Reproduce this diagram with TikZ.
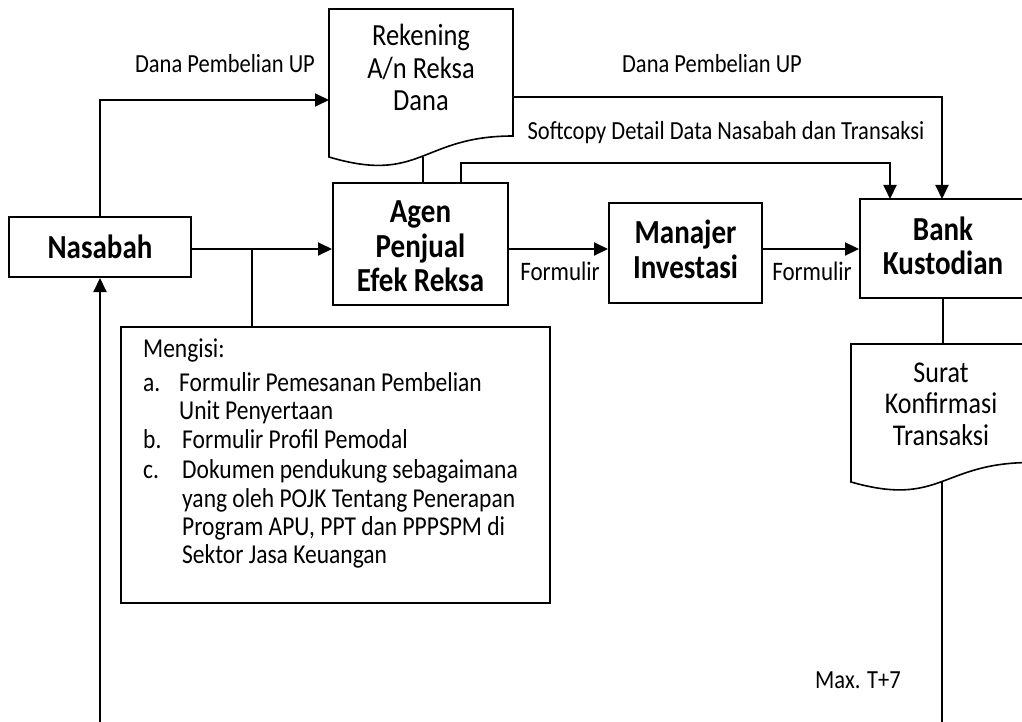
\documentclass[tikz,border=0pt]{standalone}
\usepackage{graphicx}
\usepackage{fontspec}
\setmainfont{Carlito}
\usetikzlibrary{arrows.meta}
\newcommand{\vs}[1]{\scalebox{1}[1.16]{#1}}
\begin{document}
\begin{tikzpicture}[x=1pt,y=-1pt,
  box/.style={draw, line width=2pt, rectangle, inner sep=0pt},
  btext/.style={inner sep=0pt, align=center, font=\bfseries\fontsize{29}{34.5}\selectfont},
  doctext/.style={inner sep=0pt, align=center, font=\fontsize{26.5}{32.5}\selectfont},
  lbl/.style={inner sep=0pt, anchor=base, font=\fontsize{22.5}{27}\selectfont},
  mtext/.style={inner sep=0pt, anchor=base west, font=\fontsize{23.5}{28}\selectfont},
  conn/.style={line width=2pt, -{Triangle[length=14pt,width=13pt]}},
  link/.style={line width=1.6pt},
  docline/.style={line width=1.6pt}]
\useasboundingbox (0,0) rectangle (1022,722);
\clip (0,0) rectangle (1022,722);

% boxes
\node[box, minimum width=182pt, minimum height=60pt, btext] (nas) at (100,247) {\vs{Nasabah}};
\node[box, minimum width=175pt, minimum height=122pt] (agen) at (420.5,244) {};
\node[btext] (agenT) at (420.5,246.6) {\vs{Agen}\\\vs{Penjual}\\\vs{Efek Reksa}};
\node[box, minimum width=153pt, minimum height=100pt] (man) at (685.5,253) {};
\node[btext, font=\bfseries\fontsize{29}{35}\selectfont] (manT) at (685.5,249.7) {\vs{Manajer}\\\vs{Investasi}};
\node[box, minimum width=166pt, minimum height=99pt] (bank) at (943,248.5) {};
\node[btext, font=\bfseries\fontsize{29}{34}\selectfont] (bankT) at (943,246) {\vs{Bank}\\\vs{Kustodian}};
\node[draw, line width=1.6pt, rectangle, inner sep=0pt, minimum width=429pt, minimum height=276pt] (mg) at (335.5,465) {};

% documents
\draw[docline] (329,9) -- (513,9) -- (513,136) .. controls (421,136) and (421,184.4) .. (329,157) -- cycle;
\node[doctext] (rek) at (421,67.6) {\vs{Rekening}\\\vs{A/n Reksa}\\\vs{Dana}};
\draw[docline] (851,344) -- (1031,344) -- (1031,462.5) .. controls (941,462.5) and (941,507.7) .. (851,482) -- cycle;
\node[doctext, font=\fontsize{26}{31.5}\selectfont] (sur) at (941,404) {\vs{Surat}\\\vs{Konfirmasi}\\\vs{Transaksi}};

% coordinates
\coordinate (yl) at (0,249);
\coordinate (rekL) at (329,100);
\coordinate (rekR) at (513,97);
\coordinate (rekB) at (423,157);
\coordinate (agenTop) at (461,183);
\coordinate (softC) at (461,163);
\coordinate (bankA) at (942,199);
\coordinate (bankB) at (890,199);
\coordinate (br) at (252,249);
\coordinate (surT) at (943,344);
\coordinate (surB) at (942,482);
\coordinate (endR) at (942,722);
\coordinate (endL) at (100,722);

% connectors
\draw[conn] (nas.north) |- (rekL);
\draw[conn] (rekR) -| (bankA);
\draw[conn] (agenTop) -- (softC) -| (bankB);
\draw[link] (rekB) -- (rekB |- agen.north);
\draw[conn] (nas.east |- yl) -- (agen.west |- yl);
\draw[link] (br) -- (br |- mg.north);
\draw[conn] (agen.east |- yl) -- (man.west |- yl);
\draw[conn] (man.east |- yl) -- (bank.west |- yl);
\draw[link] (bank.south) -- (surT);
\draw[link] (surB) -- (endR);
\draw[conn] (endL) -- (nas.south);

% labels
\node[lbl] (l1) at (225,73) {\vs{Dana Pembelian UP}};
\node[lbl] (l2) at (712,73) {\vs{Dana Pembelian UP}};
\node[lbl] (l3) at (726,140) {\vs{Softcopy Detail Data Nasabah dan Transaksi}};
\node[lbl, font=\fontsize{23}{27}\selectfont] (f1) at (560,280) {\vs{Formulir}};
\node[lbl, font=\fontsize{23}{27}\selectfont] (f2) at (812,280) {\vs{Formulir}};
\node[lbl] (mx) at (858,688) {\vs{Max. T+7}};

% Mengisi text
\node[mtext] (m0) at (143,357) {\vs{Mengisi:}};
\node[mtext] (m1) at (143,391) {\vs{\makebox[36pt][l]{a.}Formulir Pemesanan Pembelian}};
\node[mtext] (m2) at (179,419) {\vs{Unit Penyertaan}};
\node[mtext] (m3) at (143,448) {\vs{\makebox[39pt][l]{b.}Formulir Profil Pemodal}};
\node[mtext] (m4) at (143,478) {\vs{\makebox[39pt][l]{c.}Dokumen pendukung sebagaimana}};
\node[mtext] (m5) at (182,507) {\vs{yang oleh POJK Tentang Penerapan}};
\node[mtext] (m6) at (182,535) {\vs{Program APU, PPT dan PPPSPM di}};
\node[mtext] (m7) at (182,563) {\vs{Sektor Jasa Keuangan}};
\end{tikzpicture}
\end{document}
